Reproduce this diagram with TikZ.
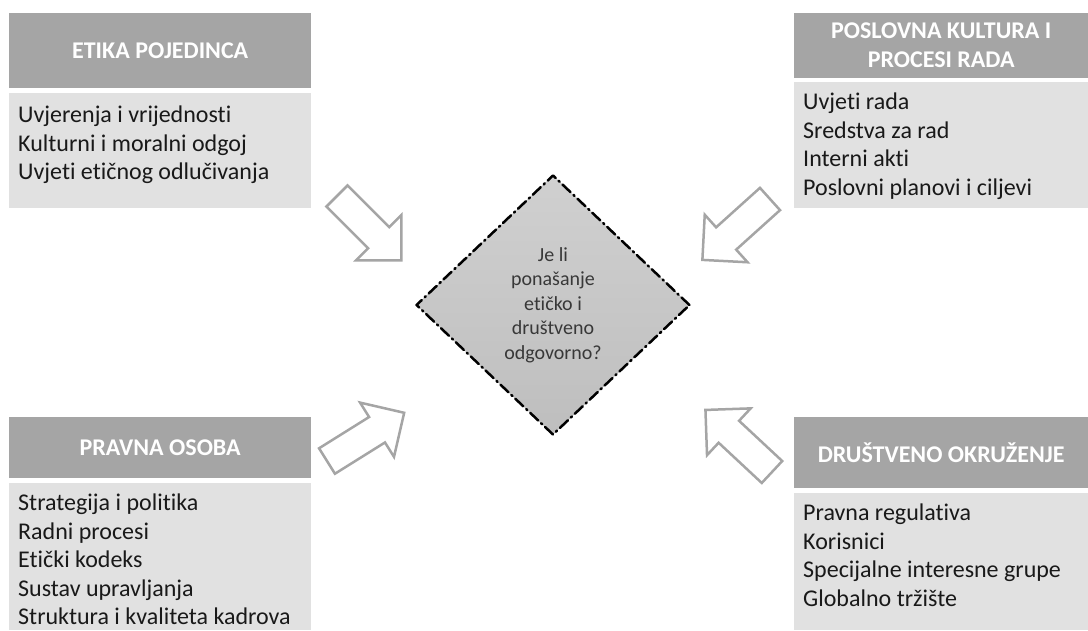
\documentclass[tikz,border=0pt]{standalone}
\usepackage{fontspec}
\setmainfont[Ligatures=NoCommon]{Carlito}
\usetikzlibrary{shapes.geometric,positioning}
\definecolor{headgray}{RGB}{165,165,165}
\definecolor{bodygray}{RGB}{225,225,225}
\definecolor{diatop}{RGB}{208,208,208}
\definecolor{diabot}{RGB}{190,190,190}
\definecolor{txtgray}{RGB}{56,56,56}
\tikzset{
	headbox/.style={fill=headgray, text=white, font=\fontsize{24}{29}\selectfont\bfseries, align=center, inner sep=0, anchor=north west},
	bodybox/.style={fill=bodygray, inner sep=0, anchor=north west},
	itemlist/.style={font=\fontsize{24}{28.5}\selectfont, text=black!90, align=left, inner sep=0, anchor=north west},
	blockarrow/.style={draw=headgray, fill=white, line width=2.5pt, line join=miter},
}
\begin{document}
\begin{tikzpicture}[x=1pt, y=-1pt, line join=round, line cap=round]
	\def\bw{302} \def\rw{294}
	\useasboundingbox (0,0) rectangle (1088,630);
	%\draw[color=gray!50,dashed] (0,0) grid[step=50] (1088,630);
	\node[headbox, minimum width=\bw, minimum height=75] (etikaH) at (9,13) {ETIKA POJEDINCA};
	\node[bodybox, minimum width=\bw, minimum height=115] (etikaB) at (9,93) {};
	\node[itemlist, below right=13pt and 9pt of etikaB.north west] (etikaL)
		{Uvjerenja i vrijednosti\\Kulturni i moralni odgoj\\Uvjeti etičnog odlučivanja};
	\node[headbox, minimum width=\rw, minimum height=65] (kulturaH) at (794,13) {POSLOVNA KULTURA I\\PROCESI RADA};
	\node[bodybox, minimum width=\rw, minimum height=126] (kulturaB) at (794,82) {};
	\node[itemlist, below right=11pt and 9pt of kulturaB.north west] (kulturaL)
		{Uvjeti rada\\Sredstva za rad\\Interni akti\\Poslovni planovi i ciljevi};
	\node[headbox, minimum width=\bw, minimum height=61] (osobaH) at (9,417) {PRAVNA OSOBA};
	\node[bodybox, minimum width=\bw, minimum height=147] (osobaB) at (9,483) {};
	\node[itemlist, below right=11pt and 9pt of osobaB.north west] (osobaL)
		{Strategija i politika\\Radni procesi\\Etički kodeks\\Sustav upravljanja\\Struktura i kvaliteta kadrova};
	\node[headbox, minimum width=\rw, minimum height=71] (okruzH) at (794,417) {DRUŠTVENO OKRUŽENJE};
	\node[bodybox, minimum width=\rw, minimum height=137] (okruzB) at (794,493) {};
	\node[itemlist, below right=11pt and 9pt of okruzB.north west] (okruzL)
		{Pravna regulativa\\Korisnici\\Specijalne interesne grupe\\Globalno tržište};
	\node[diamond, draw=black, top color=diatop, bottom color=diabot, minimum width=274, minimum height=260, inner sep=0,
		line width=2.5pt, dash pattern=on 11pt off 4pt on 1.5pt off 4pt, text=txtgray,
		font=\fontsize{20}{24.5}\selectfont, align=center] (pitanje) at (553,305)
		{Je li\\ponašanje\\etičko i\\društveno\\odgovorno?};
	\foreach \x/\y/\a in {337/196/-45, 770/199/-138, 327/461/32, 772/472/137}
		\draw[blockarrow, shift={(\x,\y)}, rotate=\a] (0,-15) -- (59,-15) -- (59,-32) -- (91,0) -- (59,32) -- (59,15) -- (0,15) -- cycle;
\end{tikzpicture}
\end{document}
